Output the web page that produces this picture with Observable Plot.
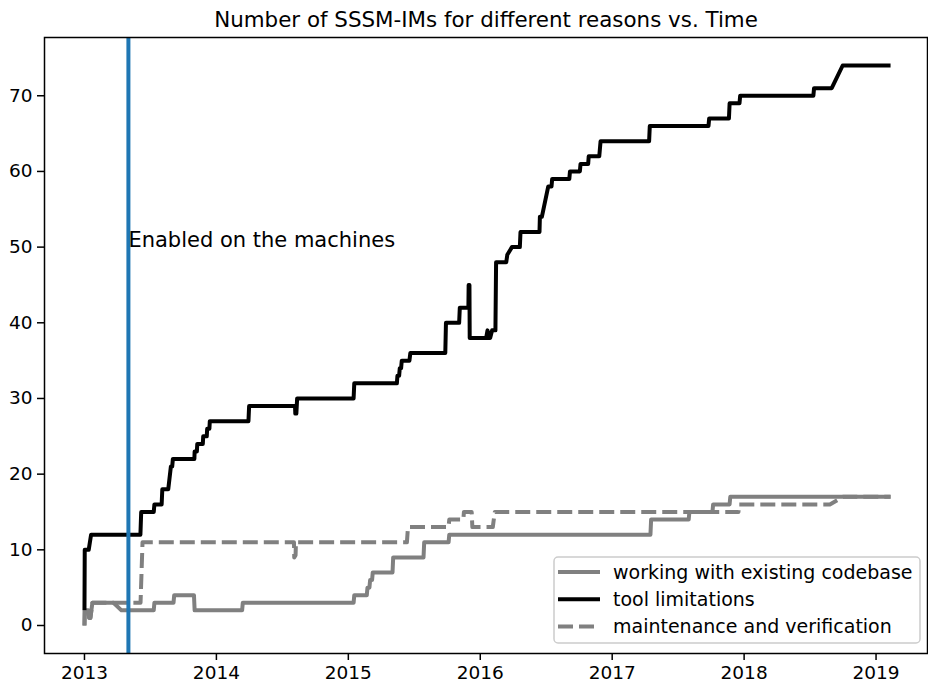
<!DOCTYPE html>
<html><head><meta charset="utf-8">
<script src="https://cdn.jsdelivr.net/npm/d3@7"></script>
<script src="https://cdn.jsdelivr.net/npm/@observablehq/plot@0.6"></script>
<style>
body{margin:0;background:#fff;}
#wrap{position:relative;width:928px;height:689px;font-family:"DejaVu Sans",sans-serif;}
#legend{position:absolute;left:553px;top:556px;}
</style></head><body><div id="wrap"></div>
<script>
const title = "Number of SSSM-IMs for different reasons vs. Time";
const enabledLabel = "Enabled on the machines";
const enabledYear = 2013.333;
const enabledLabelY = 50;
const xTicks = [2013, 2014, 2015, 2016, 2017, 2018, 2019];
const yTicks = [0, 10, 20, 30, 40, 50, 60, 70];
const seriesNames = ["working with existing codebase", "tool limitations", "maintenance and verification"];
const seriesColors = ["#808080", "#000000", "#808080"];
const seriesDash = [null, null, "15,6"];

// [year, cumulative count]
const workingWithCodebase = [
  [2013.0,0],[2013.002,2],[2013.03,2],[2013.035,1],[2013.045,1],[2013.06,3],
  [2013.22,3],[2013.28,2],[2013.525,2],[2013.53,3],[2013.675,3],[2013.68,4],
  [2013.83,4],[2013.835,2],[2014.195,2],[2014.2,3],[2015.04,3],[2015.045,4],
  [2015.14,4],[2015.145,5],[2015.16,5],[2015.165,6],[2015.18,6],[2015.185,7],
  [2015.335,7],[2015.34,9],[2015.57,9],[2015.575,11],[2015.76,11],[2015.765,12],
  [2017.29,12],[2017.295,14],[2017.58,14],[2017.585,15],[2017.76,15],[2017.765,16],
  [2017.89,16],[2017.895,17],[2019.11,17]
];
const toolLimitations = [
  [2013.0,2],[2013.002,10],[2013.032,10],[2013.05,12],[2013.424,12],[2013.43,15],
  [2013.525,15],[2013.53,16],[2013.585,16],[2013.59,18],[2013.635,18],[2013.655,21],
  [2013.665,21],[2013.67,22],[2013.833,22],[2013.835,23],[2013.852,23],[2013.855,24],
  [2013.897,24],[2013.9,25],[2013.927,25],[2013.93,26],[2013.947,26],[2013.95,27],
  [2014.243,27],[2014.248,29],[2014.596,29],[2014.598,28],[2014.606,28],[2014.612,30],
  [2015.04,30],[2015.045,32],[2015.368,32],[2015.372,33],[2015.385,33],[2015.39,34],
  [2015.4,34],[2015.405,35],[2015.463,35],[2015.47,36],[2015.735,36],[2015.74,40],
  [2015.84,40],[2015.845,42],[2015.91,42],[2015.912,45],[2015.918,45],[2015.92,38],
  [2016.045,38],[2016.055,39],[2016.065,38],[2016.075,38],[2016.09,39],[2016.115,39],
  [2016.12,48],[2016.197,48],[2016.205,49],[2016.24,50],[2016.3,50],[2016.305,52],
  [2016.449,52],[2016.452,54],[2016.467,54],[2016.515,58],[2016.54,58],[2016.545,59],
  [2016.675,59],[2016.68,60],[2016.755,60],[2016.76,61],[2016.818,61],[2016.822,62],
  [2016.902,62],[2016.912,64],[2017.28,64],[2017.285,66],[2017.73,66],[2017.735,67],
  [2017.885,67],[2017.89,69],[2017.965,69],[2017.97,70],[2018.525,70],[2018.53,71],
  [2018.664,71],[2018.747,74],[2019.11,74]
];
const maintenanceVerification = [
  [2013.0,0],[2013.002,2],[2013.03,2],[2013.035,1],[2013.045,1],[2013.06,3],
  [2013.425,3],[2013.44,11],[2014.588,11],[2014.59,9],[2014.6,9.3],[2014.603,11],
  [2015.444,11],[2015.452,13],[2015.76,13],[2015.765,14],[2015.872,14],[2015.876,15],
  [2015.935,15],[2015.94,13],[2016.095,13],[2016.11,15],[2017.957,15],[2017.962,16],
  [2018.65,16],[2018.75,17],[2019.11,17]
];
const seriesData = [workingWithCodebase, toolLimitations, maintenanceVerification];

const font = "DejaVu Sans";
const chart = Plot.plot({
  width: 928, height: 689,
  marginLeft: 44, marginRight: 1, marginTop: 37, marginBottom: 36,
  style: {fontFamily: font, fontSize: "18.5px", color: "black", background: "white", overflow: "visible"},
  x: {domain: [2012.697, 2019.39]},
  y: {domain: [-3.7, 77.7]},
  marks: [
    Plot.axisX({ticks: xTicks, tickFormat: d3.format("d"), tickSize: 7, tickPadding: 5, strokeWidth: 1.5, label: null, fontSize: 18.5}),
    Plot.axisY({ticks: yTicks, tickSize: 7, tickPadding: 5, strokeWidth: 1.5, label: null, fontSize: 18.5}),
    ...seriesData.map((d, i) => Plot.line(d, {
      x: p => p[0], y: p => p[1],
      stroke: seriesColors[i], strokeWidth: 4,
      strokeDasharray: seriesDash[i] || undefined,
      strokeLinejoin: "round", strokeLinecap: "butt"
    })),
    Plot.ruleX([enabledYear], {stroke: "#1f77b4", strokeWidth: 4}),
    Plot.frame({stroke: "black", strokeWidth: 1.5}),
    Plot.text([enabledLabel], {x: enabledYear, y: enabledLabelY, text: d => d, textAnchor: "start", lineAnchor: "bottom", fontSize: 21, fill: "black"}),
    Plot.text([title], {frameAnchor: "top", text: d => d, lineAnchor: "bottom", dy: -11, fontSize: 21.4, fill: "black"})
  ]
});
const wrap = document.getElementById("wrap");
wrap.appendChild(chart);

// legend (inside the axes, lower right)
const lg = d3.select(wrap).append("svg").attr("id", "legend")
  .attr("width", 370).attr("height", 90)
  .style("font-family", font);
lg.append("rect").attr("x", 1).attr("y", 1).attr("width", 366).attr("height", 86)
  .attr("rx", 4).attr("fill", "rgba(255,255,255,0.8)").attr("stroke", "#cccccc").attr("stroke-width", 1.5);
seriesNames.forEach((name, i) => {
  const cy = 16 + i * 27.2;
  lg.append("line").attr("x1", 5).attr("x2", 47).attr("y1", cy).attr("y2", cy)
    .attr("stroke", seriesColors[i]).attr("stroke-width", 4)
    .attr("stroke-dasharray", seriesDash[i]);
  lg.append("text").attr("x", 60).attr("y", cy).attr("dy", "0.35em")
    .attr("font-size", 19).attr("fill", "black").text(name);
});
</script></body></html>
